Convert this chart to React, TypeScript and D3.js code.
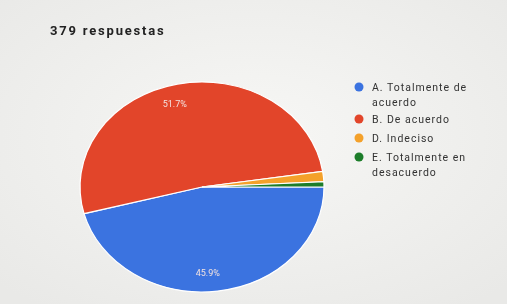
import { useEffect, useRef } from 'react';
import * as d3 from 'd3';

const categories = ['A. Totalmente de acuerdo', 'B. De acuerdo', 'D. Indeciso', 'E. Totalmente en desacuerdo'];
const legendLines = [['A. Totalmente de', 'acuerdo'], ['B. De acuerdo'], ['D. Indeciso'], ['E. Totalmente en', 'desacuerdo']];
const counts = [174, 196, 6, 3];
const colors = ['#3b73e0', '#e2452b', '#f4a12c', '#1f7d2a'];
const title = '379 respuestas';

const App = () => {
  const ref = useRef<SVGSVGElement>(null);

  useEffect(() => {
    if (!ref.current) return;
    const W = 507, H = 304;
    const svg = d3.select(ref.current);
    svg.selectAll('*').remove();
    svg.attr('width', W).attr('height', H);

    const defs = svg.append('defs');
    const bg = defs.append('radialGradient').attr('id', 'bg').attr('cx', '50%').attr('cy', '45%').attr('r', '70%');
    bg.append('stop').attr('offset', '0%').attr('stop-color', '#f7f7f5');
    bg.append('stop').attr('offset', '100%').attr('stop-color', '#e9e9e7');
    defs.append('filter').attr('id', 'soft').append('feGaussianBlur').attr('stdDeviation', 0.7);

    svg.append('rect').attr('width', W).attr('height', H).attr('fill', 'url(#bg)');

    const root = svg.append('g').attr('filter', 'url(#soft)');

    root.append('text')
      .attr('x', 50).attr('y', 35)
      .style('font-family', 'Roboto, sans-serif')
      .style('font-size', '13px')
      .style('font-weight', 'bold')
      .style('letter-spacing', '1.8px')
      .attr('fill', '#222')
      .text(title);

    const cx = 202, cy = 187, rx = 122, ry = 105;
    const total = d3.sum(counts);
    const pie = d3.pie<number>().sort(null).startAngle(Math.PI / 2).endAngle(Math.PI / 2 + 2 * Math.PI);
    const arcs = pie(counts);
    const arc = d3.arc<d3.PieArcDatum<number>>().innerRadius(0).outerRadius(1);

    const pg = root.append('g').attr('transform', `translate(${cx},${cy}) scale(${rx},${ry})`);
    pg.selectAll('path').data(arcs).enter().append('path')
      .attr('d', arc)
      .attr('fill', (_, i) => colors[i])
      .attr('stroke', '#fff')
      .attr('stroke-width', 1.2)
      .attr('vector-effect', 'non-scaling-stroke');

    root.selectAll('.pct').data(arcs.filter(d => d.data / total > 0.05)).enter().append('text')
      .attr('class', 'pct')
      .attr('x', d => cx + Math.sin((d.startAngle + d.endAngle) / 2) * rx * 0.82 - 7)
      .attr('y', d => cy - Math.cos((d.startAngle + d.endAngle) / 2) * ry * 0.82 + 4)
      .attr('text-anchor', 'middle')
      .style('font-family', 'Roboto, sans-serif')
      .style('font-size', '9px')
      .attr('fill', '#f3e3e0')
      .text(d => `${((d.data / total) * 100).toFixed(1)}%`);

    const rows = [87, 119, 138, 157];
    const lg = root.append('g');
    categories.forEach((c, i) => {
      lg.append('circle').attr('cx', 359).attr('cy', rows[i]).attr('r', 4.5).attr('fill', colors[i]);
      const t = lg.append('text')
        .attr('x', 372).attr('y', rows[i] + 3.5)
        .style('font-family', 'Roboto, sans-serif')
        .style('font-size', '10.5px')
        .style('letter-spacing', '1px')
        .attr('fill', '#333')
        .attr('data-label', c);
      legendLines[i].forEach((l, j) => {
        t.append('tspan').attr('x', 372).attr('dy', j === 0 ? 0 : 15).text(l);
      });
    });
  }, []);

  return <svg ref={ref} style={{ position: 'absolute', left: 0, top: 0 }} />;
};

export default App;
